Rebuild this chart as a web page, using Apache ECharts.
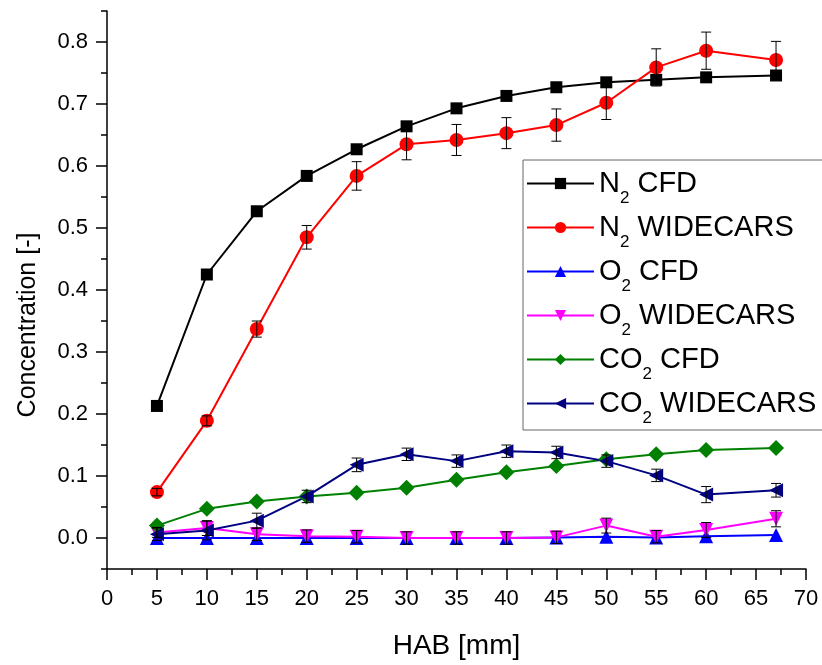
<!DOCTYPE html>
<html>
<head>
<meta charset="utf-8">
<script src="https://cdn.jsdelivr.net/npm/echarts@6/dist/echarts.min.js"></script>
<style>
  html, body { margin: 0; padding: 0; background: #fff; }
  #chart { width: 822px; height: 665px; }
</style>
</head>
<body>
<div id="chart"></div>
<script>
// HAB [mm]
const hab = [5, 10, 15, 20, 25, 30, 35, 40, 45, 50, 55, 60, 67];

const n2Cfd = [0.213, 0.425, 0.527, 0.584, 0.627, 0.664, 0.693, 0.713, 0.727, 0.735, 0.739, 0.743, 0.746];
const n2Wide = [0.074, 0.189, 0.337, 0.485, 0.584, 0.635, 0.642, 0.653, 0.666, 0.702, 0.759, 0.786, 0.771];
const n2WideErr = [0.006, 0.008, 0.013, 0.019, 0.023, 0.025, 0.025, 0.025, 0.026, 0.027, 0.030, 0.030, 0.030];

const o2Cfd = [0.000, 0.000, 0.000, 0.000, 0.000, 0.000, 0.000, 0.000, 0.001, 0.002, 0.001, 0.003, 0.005];
const o2Wide = [0.009, 0.016, 0.006, 0.003, 0.002, 0.000, 0.000, 0.000, 0.001, 0.020, 0.002, 0.013, 0.031];
const o2WideErr = [0.008, 0.012, 0.010, 0.010, 0.010, 0.010, 0.010, 0.010, 0.010, 0.012, 0.010, 0.012, 0.013];

const co2Cfd = [0.020, 0.047, 0.059, 0.067, 0.073, 0.081, 0.094, 0.106, 0.116, 0.127, 0.135, 0.142, 0.145];
const co2Wide = [0.006, 0.012, 0.028, 0.067, 0.118, 0.135, 0.124, 0.140, 0.138, 0.124, 0.101, 0.070, 0.077];
const co2WideErr = [0.010, 0.015, 0.012, 0.010, 0.011, 0.010, 0.010, 0.010, 0.010, 0.010, 0.010, 0.013, 0.011];

const yLabels = [0, 0.1, 0.2, 0.3, 0.4, 0.5, 0.6, 0.7, 0.8];
const yMinorTicks = [-0.05, 0.05, 0.15, 0.25, 0.35, 0.45, 0.55, 0.65, 0.75, 0.85];

const FONT = 'Liberation Sans, Arial, sans-serif';

function pairs(ys) {
  return hab.map((x, i) => [x, ys[i]]);
}
function errPairs(ys, err) {
  return hab.map((x, i) => [x, ys[i] - err[i], ys[i] + err[i]]);
}

// error bars drawn through the axis scales
function renderErr(params, api) {
  const x = api.value(0);
  const lo = api.coord([x, api.value(1)]);
  const hi = api.coord([x, api.value(2)]);
  const half = 5;
  const style = { stroke: '#000', lineWidth: 1 };
  return {
    type: 'group',
    children: [
      { type: 'line', shape: { x1: lo[0], y1: lo[1], x2: hi[0], y2: hi[1] }, style: style },
      { type: 'line', shape: { x1: lo[0] - half, y1: lo[1], x2: lo[0] + half, y2: lo[1] }, style: style },
      { type: 'line', shape: { x1: hi[0] - half, y1: hi[1], x2: hi[0] + half, y2: hi[1] }, style: style }
    ]
  };
}

function lineSeries(name, data, color, symbol, size, rotate) {
  return {
    name: name,
    type: 'line',
    data: pairs(data),
    symbol: symbol,
    symbolSize: size,
    symbolRotate: rotate || 0,
    showAllSymbol: true,
    lineStyle: { color: color, width: 2 },
    itemStyle: { color: color },
    emphasis: { disabled: true },
    animation: false
  };
}

function errSeries(ys, err) {
  return {
    type: 'custom',
    renderItem: renderErr,
    data: errPairs(ys, err),
    encode: { x: 0, y: [1, 2] },
    z: 5,
    silent: true,
    animation: false
  };
}

const chart = echarts.init(document.getElementById('chart'));

const option = {
  backgroundColor: '#fff',
  animation: false,
  grid: { left: 107, right: 16, top: 11, bottom: 91 },
  legend: {
    orient: 'vertical',
    left: 523,
    top: 160,
    padding: [9, 30, 3, 3],
    itemWidth: 67,
    itemHeight: 14,
    itemGap: 6,
    borderColor: '#666',
    borderWidth: 1,
    borderRadius: 0,
    selectedMode: false,
    data: ['N2 CFD', 'N2 WIDECARS', 'O2 CFD', 'O2 WIDECARS', 'CO2 CFD', 'CO2 WIDECARS'],
    formatter: name => name.replace('2', '{s|2}'),
    textStyle: {
      fontFamily: FONT,
      fontSize: 29,
      color: '#000',
      rich: {
        s: { fontFamily: FONT, fontSize: 17, color: '#000', verticalAlign: 'top', padding: [30, 0, 0, 0] }
      }
    }
  },
  xAxis: {
    type: 'value',
    min: 0,
    max: 70,
    interval: 5,
    name: 'HAB [mm]',
    nameLocation: 'middle',
    nameGap: 63,
    nameTextStyle: { fontFamily: FONT, fontSize: 28, color: '#000' },
    axisLine: { onZero: false, lineStyle: { color: '#000', width: 1.5 } },
    axisTick: { show: true, inside: false, length: 11, lineStyle: { color: '#000', width: 1.5 } },
    minorTick: { show: true, splitNumber: 2, length: 6, lineStyle: { color: '#000', width: 1.5 } },
    axisLabel: { fontFamily: FONT, fontSize: 22, color: '#000', margin: 19 },
    splitLine: { show: false }
  },
  yAxis: [
    {
      type: 'value',
      min: -0.05,
      max: 0.85,
      name: 'Concentration [-]',
      nameLocation: 'middle',
      nameGap: 66,
      nameTextStyle: { fontFamily: FONT, fontSize: 25, color: '#000', padding: [0, 70, 0, 0] },
      axisLine: { show: true, onZero: false, lineStyle: { color: '#000', width: 1.5 } },
      axisTick: { show: true, inside: false, length: 11, customValues: yLabels, lineStyle: { color: '#000', width: 1.5 } },
      axisLabel: {
        fontFamily: FONT, fontSize: 22, color: '#000', margin: 19,
        customValues: yLabels,
        formatter: v => v.toFixed(1)
      },
      splitLine: { show: false }
    },
    {
      type: 'value',
      position: 'left',
      min: -0.05,
      max: 0.85,
      axisLine: { show: false },
      axisTick: { show: true, inside: false, length: 6, customValues: yMinorTicks, lineStyle: { color: '#000', width: 1.5 } },
      axisLabel: { show: false },
      splitLine: { show: false }
    }
  ],
  series: [
    lineSeries('N2 CFD', n2Cfd, '#000000', 'rect', 12),
    lineSeries('N2 WIDECARS', n2Wide, '#ff0000', 'circle', 14),
    lineSeries('O2 CFD', o2Cfd, '#0000ff', 'triangle', 14),
    lineSeries('O2 WIDECARS', o2Wide, '#ff00ff', 'triangle', 14, 180),
    lineSeries('CO2 CFD', co2Cfd, '#008000', 'diamond', 16),
    lineSeries('CO2 WIDECARS', co2Wide, '#000080', 'triangle', 14, 90),
    errSeries(n2Wide, n2WideErr),
    errSeries(o2Wide, o2WideErr),
    errSeries(co2Wide, co2WideErr)
  ]
};

chart.setOption(option);
</script>
</body>
</html>
